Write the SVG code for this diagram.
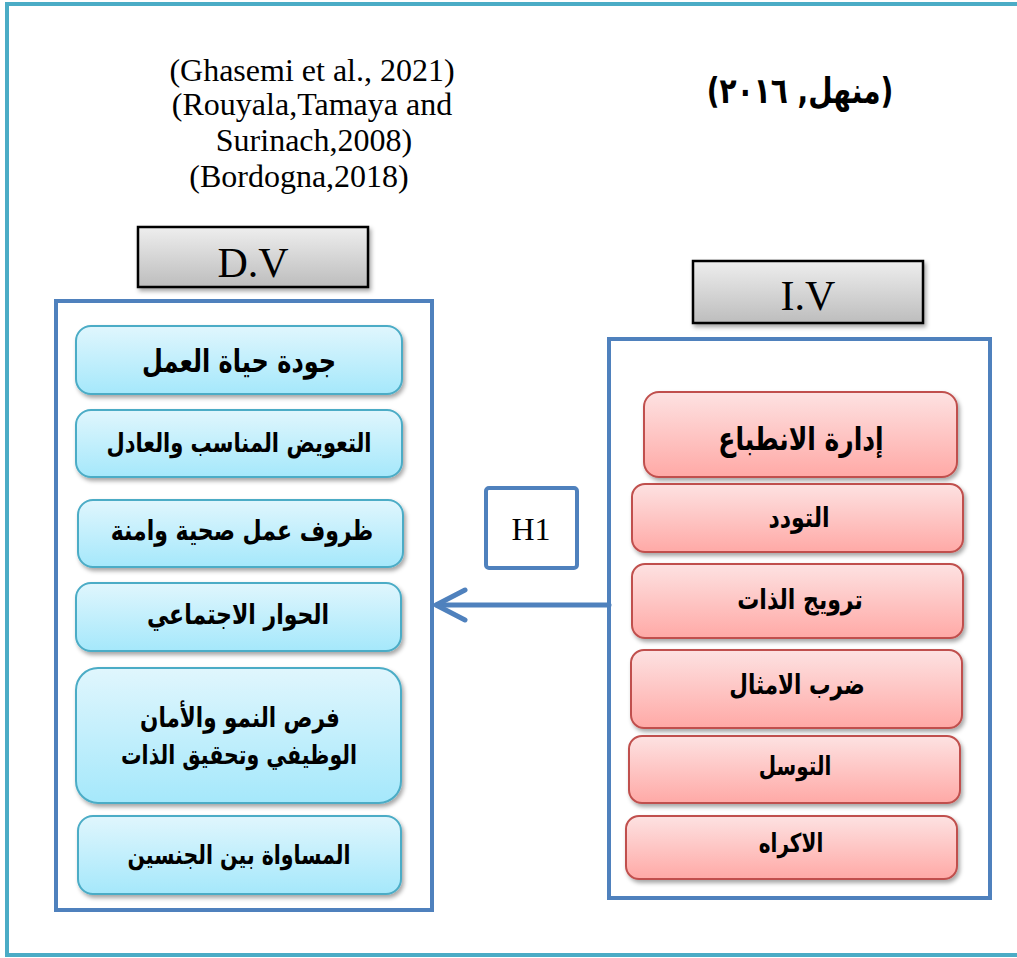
<svg xmlns="http://www.w3.org/2000/svg" width="1017" height="958" viewBox="0 0 1017 958">
<defs>
<linearGradient id="gGray" x1="0" y1="0" x2="0" y2="1"><stop offset="0" stop-color="#eeeeee"/><stop offset="1" stop-color="#bdbdbd"/></linearGradient>
<linearGradient id="gBlue" x1="0" y1="0" x2="0" y2="1"><stop offset="0" stop-color="#e0f6fd"/><stop offset="1" stop-color="#a5e8fb"/></linearGradient>
<linearGradient id="gRed" x1="0" y1="0" x2="0" y2="1"><stop offset="0" stop-color="#fde2e2"/><stop offset="1" stop-color="#ffa9a6"/></linearGradient>
<filter id="sh" x="-10%" y="-20%" width="125%" height="150%"><feDropShadow dx="2" dy="3" stdDeviation="2" flood-color="#000" flood-opacity="0.35"/></filter>
<style>
.frame{fill:none;stroke:#4bacc6;stroke-width:4}
.cont{fill:#fff;stroke:#4f81bd;stroke-width:4}
.hdr{fill:url(#gGray);stroke:#000;stroke-width:2.5;filter:url(#sh)}
.bb{fill:url(#gBlue);stroke:#4bacc6;stroke-width:2;filter:url(#sh)}
.rb{fill:url(#gRed);stroke:#c0504d;stroke-width:2;filter:url(#sh)}
.ref{font-family:"Liberation Serif",serif;font-size:32px;fill:#000;text-anchor:middle}
.ht{font-family:"Liberation Serif",serif;font-size:42px;fill:#000;text-anchor:middle}
.ar{font-family:"DejaVu Sans",sans-serif;font-weight:bold;fill:#000;text-anchor:middle}
.conn{fill:none;stroke:#4f81bd;stroke-width:5;stroke-linecap:round;stroke-linejoin:round}
</style>
</defs>
<rect class="frame" x="7" y="4" width="1020" height="951"/>
<g id="refs">
<text class="ref" x="312" y="81">(Ghasemi et al., 2021)</text>
<text class="ref" x="312" y="115">(Rouyala,Tamaya and</text>
<text class="ref" x="314" y="151">Surinach,2008)</text>
<text class="ref" x="299" y="187">(Bordogna,2018)</text>
</g>
<g id="ref-ar"><text class="ar" transform="translate(800,103) scale(1,1.28)" font-size="28" direction="rtl">(منهل, ٢٠١٦)</text></g>
<g id="dv-container"><rect class="cont" x="56" y="301" width="376" height="609"/></g>
<g id="iv-container"><rect class="cont" x="609" y="339" width="381" height="559"/></g>
<g id="dv-header"><rect class="hdr" x="138" y="227" width="230" height="60"/><text class="ht" x="253" y="277">D.V</text></g>
<g id="iv-header"><rect class="hdr" x="693" y="261" width="230" height="62"/><text class="ht" x="808" y="310">I.V</text></g>
<g id="b1"><rect class="bb" x="76" y="326" width="326" height="68" rx="15"/><text class="ar" transform="translate(239,372) scale(1,1.3)" font-size="24" direction="rtl">جودة حياة العمل</text></g>
<g id="b2"><rect class="bb" x="76" y="410" width="326" height="67" rx="15"/><text class="ar" transform="translate(239,452) scale(1,1.28)" font-size="21" direction="rtl">التعويض المناسب والعادل</text></g>
<g id="b3"><rect class="bb" x="78" y="500" width="325" height="67" rx="15"/><text class="ar" transform="translate(242,540) scale(1,1.28)" font-size="22" direction="rtl">ظروف عمل صحية وامنة</text></g>
<g id="b4"><rect class="bb" x="76" y="583" width="325" height="68" rx="15"/><text class="ar" transform="translate(238,624) scale(1,1.28)" font-size="22" direction="rtl">الحوار الاجتماعي</text></g>
<g id="b5"><rect class="bb" x="76" y="668" width="325" height="135" rx="22"/><text class="ar" transform="translate(240,727) scale(1,1.28)" font-size="21.5" direction="rtl">فرص النمو والأمان</text><text class="ar" transform="translate(239,764) scale(1,1.3)" font-size="20.5" direction="rtl">الوظيفي وتحقيق الذات</text></g>
<g id="b6"><rect class="bb" x="78" y="816" width="323" height="78" rx="15"/><text class="ar" transform="translate(239,864) scale(1,1.3)" font-size="20.5" direction="rtl">المساواة بين الجنسين</text></g>
<g id="r1"><rect class="rb" x="644" y="392" width="313" height="85" rx="15"/><text class="ar" transform="translate(801,450) scale(1,1.28)" font-size="25" direction="rtl">إدارة الانطباع</text></g>
<g id="r2"><rect class="rb" x="632" y="484" width="331" height="68" rx="13"/><text class="ar" transform="translate(799,527) scale(1,1.25)" font-size="22" direction="rtl">التودد</text></g>
<g id="r3"><rect class="rb" x="632" y="564" width="331" height="74" rx="13"/><text class="ar" transform="translate(800,609) scale(1,1.25)" font-size="22" direction="rtl">ترويج الذات</text></g>
<g id="r4"><rect class="rb" x="631" y="650" width="331" height="78" rx="13"/><text class="ar" transform="translate(797,694) scale(1,1.28)" font-size="21.5" direction="rtl">ضرب الامثال</text></g>
<g id="r5"><rect class="rb" x="629" y="736" width="331" height="67" rx="13"/><text class="ar" transform="translate(795,775) scale(1,1.3)" font-size="20" direction="rtl">التوسل</text></g>
<g id="r6"><rect class="rb" x="626" y="816" width="331" height="63" rx="13"/><text class="ar" transform="translate(791,852) scale(1,1.3)" font-size="20" direction="rtl">الاكراه</text></g>
<g id="h1"><rect x="486" y="488" width="91" height="80" rx="3" fill="#fff" stroke="#4f81bd" stroke-width="4"/><text class="ref" x="531" y="540" font-size="30">H1</text></g>
<g id="connectors">
<path class="conn" d="M609 605 H437"/>
<path class="conn" d="M465 590 L436 605 L465 620"/>
</g>
</svg>
